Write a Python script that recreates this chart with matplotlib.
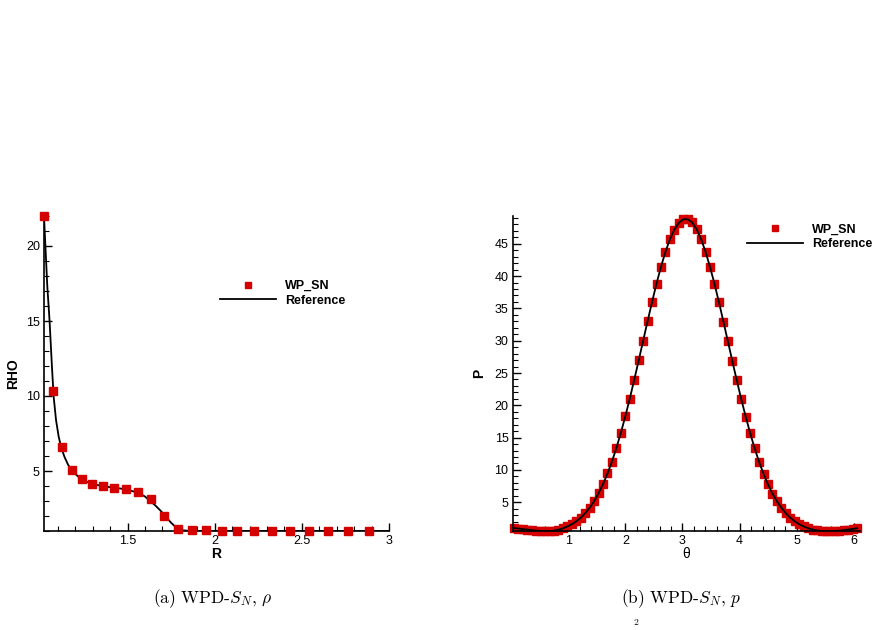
import matplotlib
matplotlib.use("Agg")
import matplotlib.pyplot as plt
from matplotlib.ticker import MultipleLocator, FixedLocator

plt.rcParams['font.family'] = ['Liberation Sans', 'DejaVu Sans']
plt.rcParams['mathtext.fontset'] = 'cm'

RED = '#d40000'

# (a) density along R
r_wpsn = [1.021, 1.072, 1.124, 1.182, 1.239, 1.299, 1.362, 1.423, 1.492, 1.561,
          1.636, 1.710, 1.787, 1.868, 1.952, 2.044, 2.130, 2.228, 2.328, 2.431,
          2.540, 2.649, 2.764, 2.883]
rho_wpsn = [22.0, 10.33, 6.58, 5.07, 4.44, 4.11, 3.98, 3.84, 3.78, 3.58,
            3.11, 1.99, 1.12, 1.04, 1.04, 1.0, 1.0, 1.0, 1.0, 1.0,
            1.0, 1.0, 1.0, 1.0]
r_ref = [1.021, 1.029, 1.04, 1.053, 1.065, 1.076, 1.09, 1.105, 1.121, 1.14,
         1.16, 1.187, 1.22, 1.26, 1.3, 1.35, 1.4, 1.45, 1.5, 1.54,
         1.57, 1.6, 1.63, 1.66, 1.69, 1.72, 1.75, 1.78, 1.81, 1.85,
         1.9, 2.0, 2.5, 3.0]
rho_ref = [22.0, 20.0, 17.3, 15.0, 12.3, 10.0, 8.4, 7.3, 6.5, 5.9,
           5.4, 4.95, 4.6, 4.3, 4.15, 4.0, 3.92, 3.85, 3.75, 3.62,
           3.5, 3.3, 3.0, 2.7, 2.35, 1.95, 1.55, 1.22, 1.06, 1.01,
           1.0, 1.0, 1.0, 1.0]

# (b) pressure along theta
theta = [0.050, 0.128, 0.206, 0.284, 0.362, 0.440, 0.518, 0.596, 0.674, 0.752,
         0.830, 0.908, 0.986, 1.064, 1.142, 1.220, 1.298, 1.376, 1.454, 1.532,
         1.610, 1.688, 1.766, 1.844, 1.922, 2.000, 2.078, 2.156, 2.234, 2.312,
         2.390, 2.468, 2.546, 2.624, 2.702, 2.780, 2.858, 2.936, 3.014, 3.092,
         3.170, 3.248, 3.326, 3.404, 3.482, 3.560, 3.638, 3.716, 3.794, 3.872,
         3.950, 4.028, 4.106, 4.184, 4.262, 4.340, 4.418, 4.496, 4.574, 4.652,
         4.730, 4.808, 4.886, 4.964, 5.042, 5.120, 5.198, 5.276, 5.354, 5.432,
         5.510, 5.588, 5.666, 5.744, 5.822, 5.900, 5.978, 6.056]
p_vals = [1.00, 0.93, 0.85, 0.76, 0.68, 0.61, 0.55, 0.52, 0.53, 0.60,
          0.75, 0.95, 1.25, 1.6, 2.05, 2.6, 3.3, 4.15, 5.15, 6.4,
          7.8, 9.45, 11.3, 13.4, 15.75, 18.3, 21.05, 23.95, 26.95, 30.0,
          33.05, 36.0, 38.85, 41.45, 43.75, 45.7, 47.2, 48.25, 48.8, 48.8,
          48.3, 47.25, 45.7, 43.75, 41.4, 38.8, 35.95, 32.95, 29.9, 26.85,
          23.85, 20.95, 18.25, 15.7, 13.35, 11.25, 9.4, 7.75, 6.35, 5.15,
          4.15, 3.3, 2.6, 2.05, 1.6, 1.25, 0.98, 0.78, 0.63, 0.55,
          0.51, 0.51, 0.55, 0.6, 0.68, 0.77, 0.87, 0.98]

fig = plt.figure(figsize=(8.78, 6.3), dpi=100)
ax1 = fig.add_axes([44/878, 1-531/630, 345/878, 315/630])
ax2 = fig.add_axes([512.7/878, 1-531/630, 347/878, 315/630])


def style(ax):
    for s in ('top', 'right'):
        ax.spines[s].set_visible(False)
    for s in ('left', 'bottom'):
        ax.spines[s].set_linewidth(1.2)
    ax.tick_params(which='major', direction='in', length=6, width=1, labelsize=9, pad=3)
    ax.tick_params(which='minor', direction='in', length=3.5, width=0.8)


# left panel
ax1.plot(r_ref, rho_ref, color='black', lw=1.3, label='Reference', zorder=2)
ax1.plot(r_wpsn, rho_wpsn, 's', color=RED, ms=5.2, mec=RED, clip_on=False,
         label='WP_SN', zorder=3)
ax1.set_xlim(1.021, 3.0)
ax1.set_ylim(1.0, 22.0)
ax1.xaxis.set_major_locator(FixedLocator([1.5, 2, 2.5, 3]))
ax1.xaxis.set_minor_locator(MultipleLocator(0.1))
ax1.yaxis.set_major_locator(FixedLocator([5, 10, 15, 20]))
ax1.yaxis.set_minor_locator(MultipleLocator(1))
ax1.set_xticklabels(['1.5', '2', '2.5', '3'])
ax1.set_yticklabels(['5', '10', '15', '20'])
style(ax1)
ax1.set_xlabel('R', fontsize=10, fontweight='bold', labelpad=0)
ax1.set_ylabel('RHO', fontsize=10, fontweight='bold', labelpad=4)

# right panel
ax2.plot(theta, p_vals, 's', color=RED, ms=5.3, mec=RED, clip_on=False,
         label='WP_SN', zorder=2)
ax2.plot(theta, p_vals, color='black', lw=1.3, label='Reference', zorder=3)
ax2.set_xlim(0.03, 6.1)
ax2.set_ylim(0.55, 49.3)
ax2.xaxis.set_major_locator(FixedLocator([1, 2, 3, 4, 5, 6]))
ax2.xaxis.set_minor_locator(MultipleLocator(0.2))
ax2.yaxis.set_major_locator(FixedLocator([5, 10, 15, 20, 25, 30, 35, 40, 45]))
ax2.yaxis.set_minor_locator(MultipleLocator(1))
style(ax2)
ax2.set_xlabel('θ', fontsize=10, labelpad=0)
ax2.set_ylabel('P', fontsize=10, fontweight='bold', labelpad=6)

for ax, anchor in ((ax1, (214/878, 1-274/630)), (ax2, (741/878, 1-217.5/630))):
    h, l = ax.get_legend_handles_labels()
    order = [l.index('WP_SN'), l.index('Reference')]
    ax.legend([h[i] for i in order], [l[i] for i in order], loc='upper left',
              bbox_to_anchor=anchor, bbox_transform=fig.transFigure,
              frameon=False, borderpad=0, handlelength=4.45, handletextpad=0.72,
              labelspacing=0.2, markerscale=0.75,
              prop={'weight': 'bold', 'size': 9})

cap = dict(ha='center', va='center', fontsize=12.5, family=['cmr10', 'DejaVu Serif'])
fig.text(213/878, 1-599/630, r'(a) WPD-$S_N$, $\rho$', **cap)
fig.text(681/878, 1-599/630, r'(b) WPD-$S_N$, $p$', **cap)
fig.text(636/878, 1-623/630, '2', ha='center', va='center', fontsize=7,
         family=['cmr10', 'DejaVu Serif'])

fig.savefig('out.png', dpi=100)
